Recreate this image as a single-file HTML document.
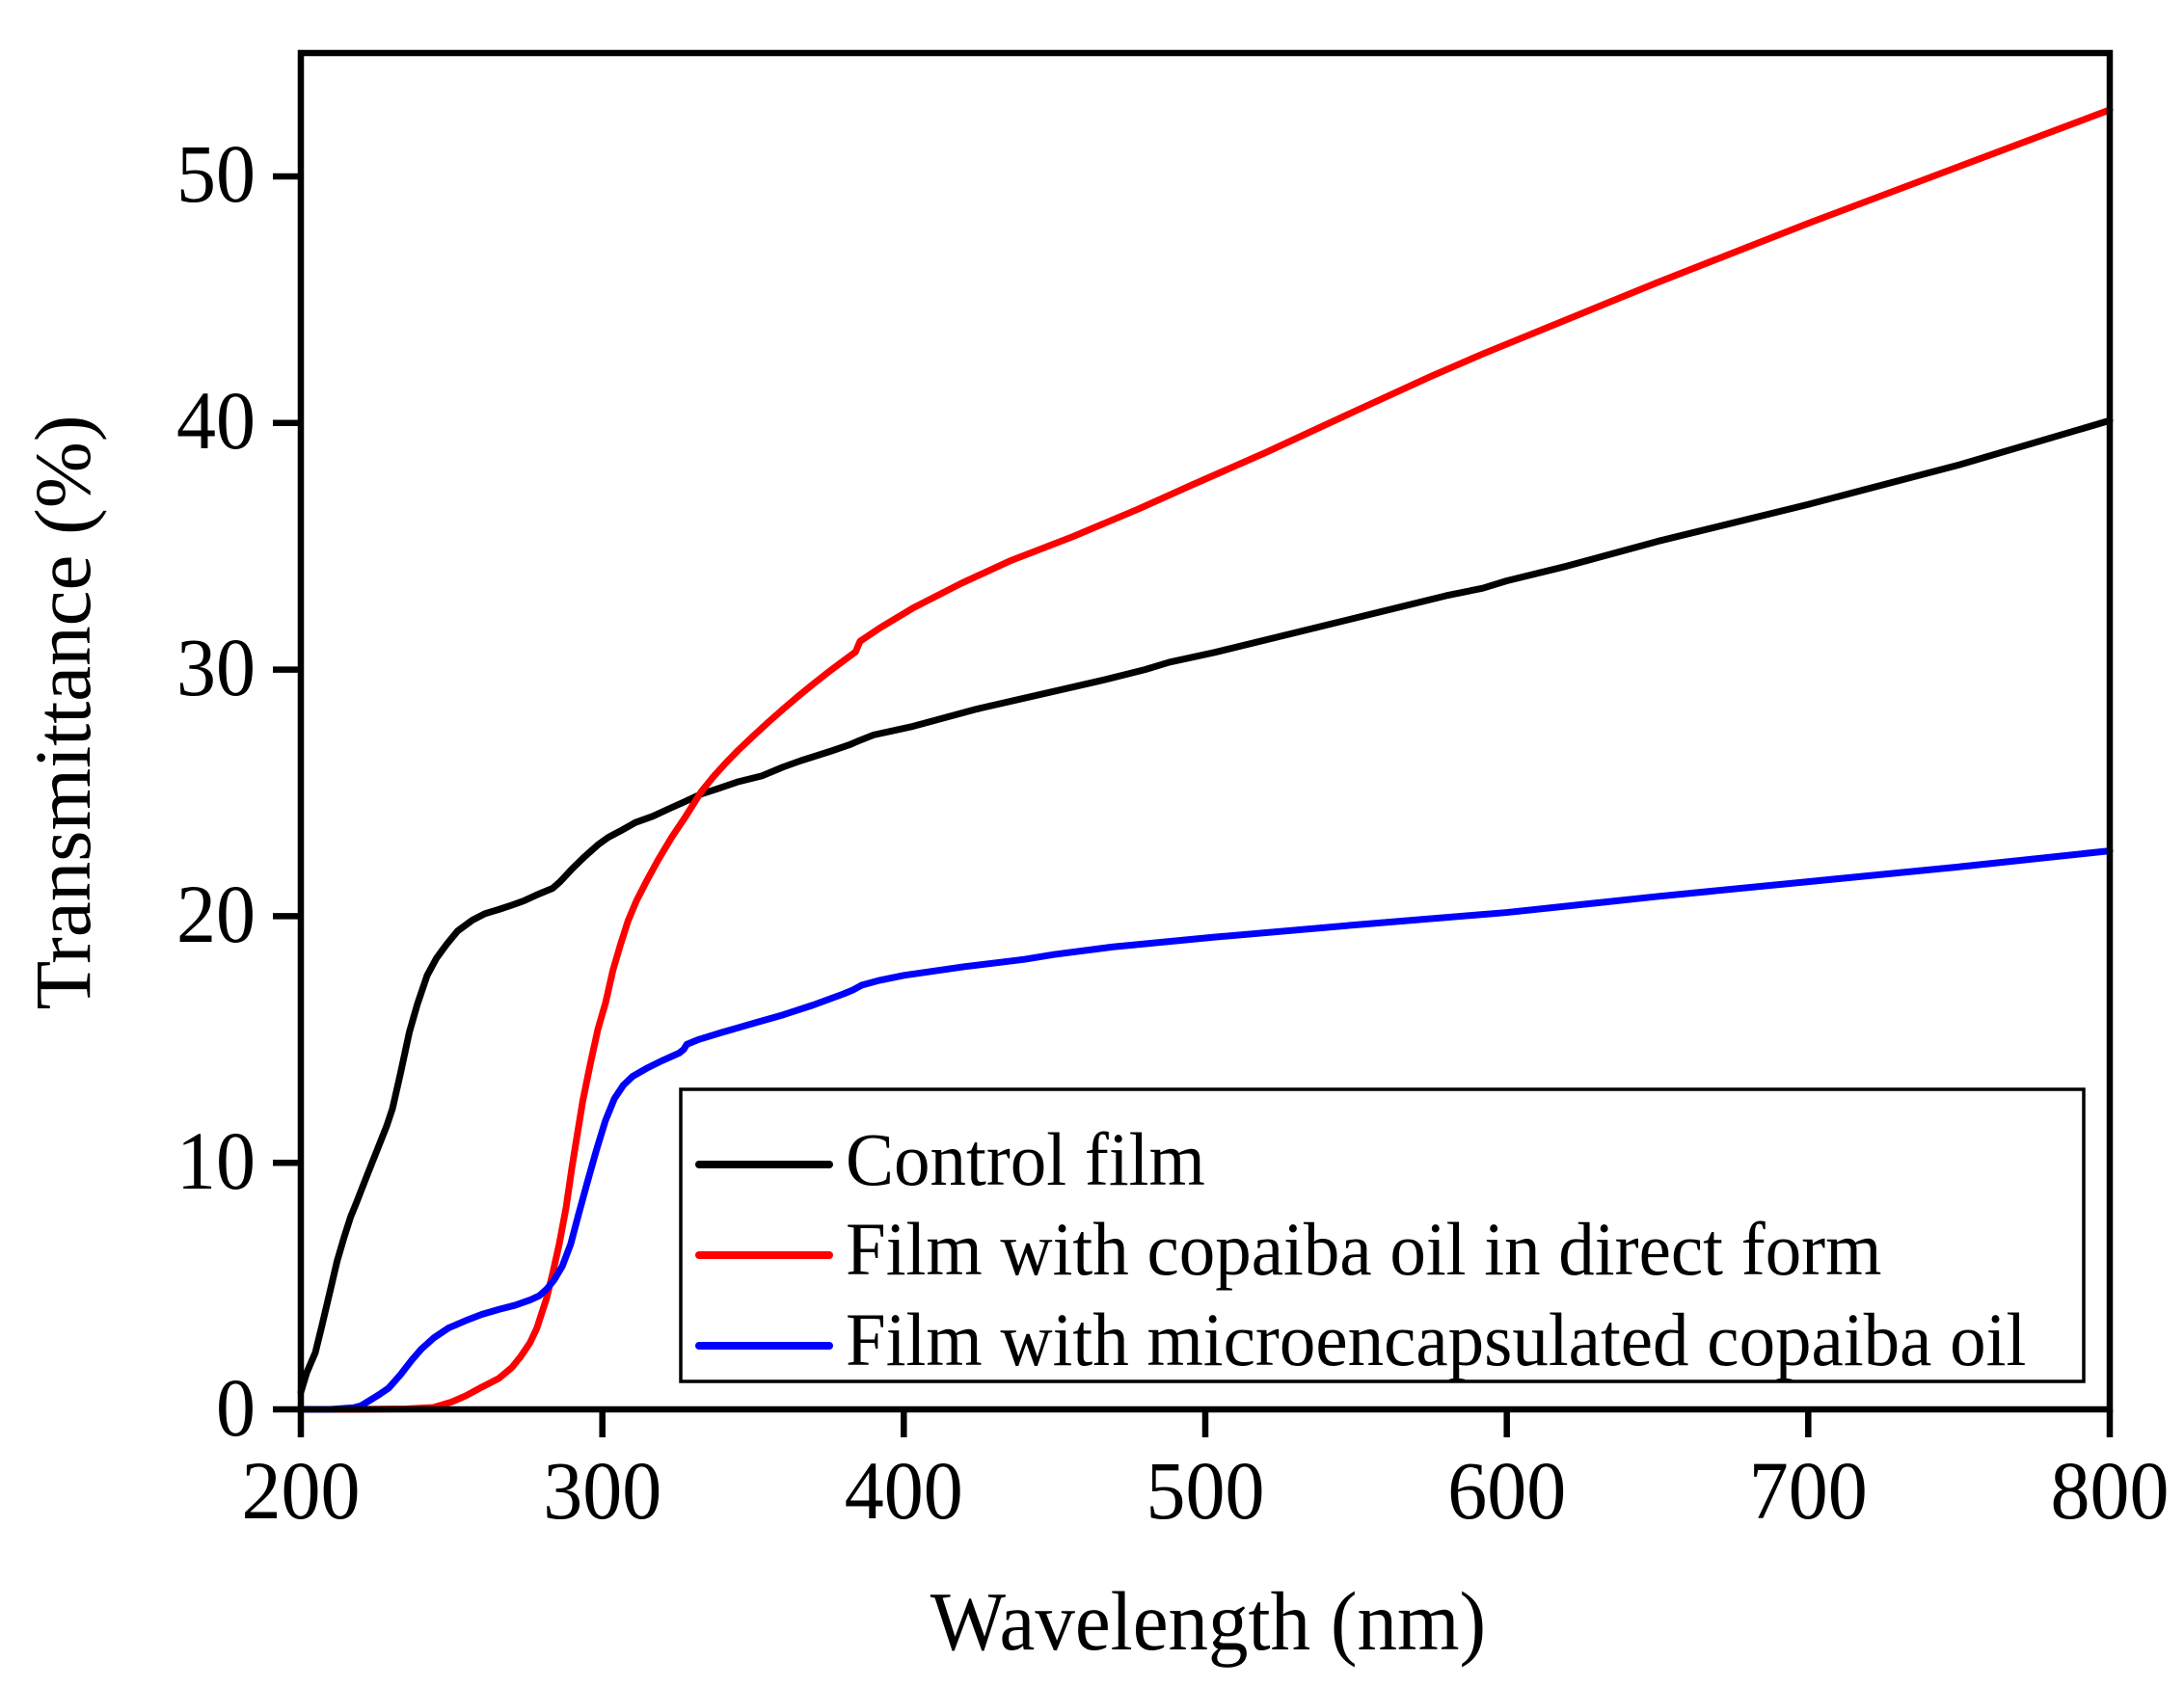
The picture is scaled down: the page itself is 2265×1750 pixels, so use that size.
<!DOCTYPE html>
<html>
<head>
<meta charset="utf-8">
<style>
html,body{margin:0;padding:0;background:#fff;}
svg{display:block;}
text{font-family:"Liberation Serif","Times New Roman",serif;fill:#000;}
</style>
</head>
<body>
<svg width="2265" height="1750" viewBox="0 0 2265 1750" xmlns="http://www.w3.org/2000/svg">
<rect x="0" y="0" width="2265" height="1750" fill="#fff"/>

<!-- curves in data coordinates: x = nm-200, y = value -->
<g transform="translate(312,1462) scale(3.1267,-25.58)" fill="none" stroke-linejoin="round" stroke-linecap="round">
<polyline vector-effect="non-scaling-stroke" stroke="#000" stroke-width="7" points="
0,0.7 2,1.5 4.8,2.3 7,3.4 9.9,4.9 12,6.0 14.4,7.0 16.5,7.8 18.5,8.4 22,9.5 25.9,10.7 28.5,11.5 30.4,12.2 33,13.6 36,15.3 38.7,16.45 41.9,17.6 45,18.3 48.3,18.85 52,19.4 56.9,19.84 61,20.1 65.6,20.27 70,20.45 73.9,20.62 78,20.85 83.5,21.13 86,21.4 89.9,21.91 94,22.4 98.5,22.89 102,23.2 105.9,23.45 111,23.8 116.7,24.05 122,24.35 127.3,24.64 132.7,24.95 137.8,25.15 145,25.45 152.9,25.69 160,26.05 165.7,26.3 176,26.7 182,26.95 184.8,27.1 190,27.35 203.1,27.7 224.2,28.4 245.6,29.0 267,29.6 280,30.0 288.1,30.3 303.2,30.7 350,32.1 380,33.0 392,33.3 400,33.6 420,34.2 450,35.2 500,36.7 550,38.3 600,40.1"/>
<polyline vector-effect="non-scaling-stroke" stroke="#ff0000" stroke-width="7" points="
0,0 18,0 35,0.02 44,0.08 50,0.3 54.7,0.55 60,0.9 65.6,1.25 70,1.7 72.9,2.14 76,2.7 78.3,3.3 81.5,4.5 83.5,5.5 85.7,6.7 88,8.2 89.9,9.8 91.5,11.0 93.5,12.5 96,14.0 98.5,15.4 101.1,16.5 103.5,17.8 105.9,18.8 108.5,19.8 111.3,20.62 115,21.5 118.6,22.3 123,23.2 127.3,23.98 132.7,25.03 137,25.68 141,26.22 145,26.72 150,27.3 155,27.86 160,28.4 165,28.92 170,29.42 175,29.9 180,30.36 184,30.72 185.5,31.15 192.2,31.7 203.1,32.5 219.1,33.5 235.1,34.4 256.2,35.4 277.6,36.5 295.8,37.5 320,38.8 350,40.5 375,41.9 392,42.8 400,43.2 450,45.7 500,48.1 550,50.4 600,52.7"/>
<polyline vector-effect="non-scaling-stroke" stroke="#0000ff" stroke-width="7" points="
0,0 10,0 17.6,0.07 20,0.15 22.7,0.35 26,0.6 29.1,0.86 33,1.4 36.8,2.0 40,2.45 44.1,2.9 49,3.3 54.7,3.6 60,3.85 65.6,4.05 71,4.22 76.1,4.44 79,4.6 81.5,4.87 84,5.25 86.7,5.8 89.5,6.7 92.1,7.9 95,9.2 98,10.5 101,11.7 104,12.6 107,13.15 110,13.5 115,13.85 120,14.15 125.5,14.45 127,14.6 128,14.8 132,15.0 140,15.3 150,15.65 160,16.0 170,16.4 180,16.85 183,17.0 186,17.2 192,17.4 200,17.6 220,17.95 240,18.25 250,18.45 269,18.75 303,19.15 350,19.65 390,20.05 400,20.15 450,20.8 500,21.4 550,22.0 600,22.65"/>
</g>

<!-- frame -->
<rect x="312" y="55" width="1876" height="1407" fill="none" stroke="#000" stroke-width="6.5"/>

<!-- ticks -->
<g stroke="#000" stroke-width="6.5">
<line x1="283" y1="1462" x2="312" y2="1462"/>
<line x1="283" y1="1206.2" x2="312" y2="1206.2"/>
<line x1="283" y1="950.4" x2="312" y2="950.4"/>
<line x1="283" y1="694.6" x2="312" y2="694.6"/>
<line x1="283" y1="438.8" x2="312" y2="438.8"/>
<line x1="283" y1="183" x2="312" y2="183"/>
<line x1="312" y1="1462" x2="312" y2="1491"/>
<line x1="624.7" y1="1462" x2="624.7" y2="1491"/>
<line x1="937.3" y1="1462" x2="937.3" y2="1491"/>
<line x1="1250" y1="1462" x2="1250" y2="1491"/>
<line x1="1562.7" y1="1462" x2="1562.7" y2="1491"/>
<line x1="1875.3" y1="1462" x2="1875.3" y2="1491"/>
<line x1="2188" y1="1462" x2="2188" y2="1491"/>
</g>

<!-- y tick labels -->
<g font-size="82" text-anchor="end">
<text transform="translate(265,1489) scale(1,1.05)">0</text>
<text transform="translate(265,1233) scale(1,1.05)">10</text>
<text transform="translate(265,977) scale(1,1.05)">20</text>
<text transform="translate(265,721) scale(1,1.05)">30</text>
<text transform="translate(265,465) scale(1,1.05)">40</text>
<text transform="translate(265,209) scale(1,1.05)">50</text>
</g>

<!-- x tick labels -->
<g font-size="82" text-anchor="middle">
<text transform="translate(312,1575) scale(1,1.05)">200</text>
<text transform="translate(624.7,1575) scale(1,1.05)">300</text>
<text transform="translate(937.3,1575) scale(1,1.05)">400</text>
<text transform="translate(1250,1575) scale(1,1.05)">500</text>
<text transform="translate(1562.7,1575) scale(1,1.05)">600</text>
<text transform="translate(1875.3,1575) scale(1,1.05)">700</text>
<text transform="translate(2188,1575) scale(1,1.05)">800</text>
</g>

<!-- axis titles -->
<text font-size="83" text-anchor="middle" transform="translate(1253,1711) scale(1,1.05)">Wavelength (nm)</text>
<text font-size="83" text-anchor="middle" transform="translate(93,739) rotate(-90)">Transmittance (%)</text>

<!-- legend -->
<rect x="706" y="1130" width="1455" height="303" fill="#fff" stroke="#000" stroke-width="3.5"/>
<g stroke-width="8" stroke-linecap="round">
<line x1="725" y1="1208" x2="860" y2="1208" stroke="#000"/>
<line x1="725" y1="1302" x2="860" y2="1302" stroke="#ff0000"/>
<line x1="725" y1="1396" x2="860" y2="1396" stroke="#0000ff"/>
</g>
<g font-size="75">
<text transform="translate(877,1229) scale(1,1.05)">Control film</text>
<text transform="translate(877,1322) scale(1,1.05)">Film with copaiba oil in direct form</text>
<text transform="translate(877,1416) scale(1,1.05)">Film with microencapsulated copaiba oil</text>
</g>
</svg>
</body>
</html>
